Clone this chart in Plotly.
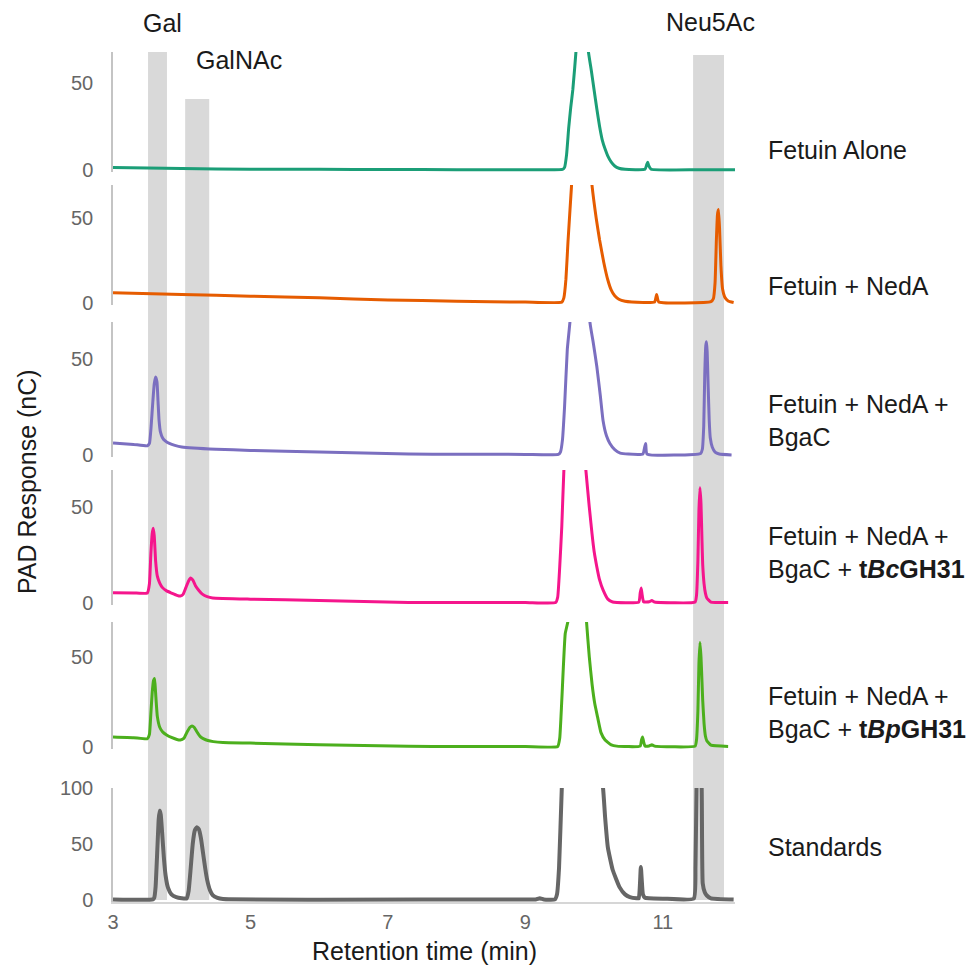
import plotly.graph_objects as go

# ---------------- data ----------------
labels = ["Fetuin Alone",
          "Fetuin + NedA",
          "Fetuin + NedA +<br>BgaC",
          "Fetuin + NedA +<br>BgaC + <b>t<i>Bc</i>GH31</b>",
          "Fetuin + NedA +<br>BgaC + <b>t<i>Bp</i>GH31</b>",
          "Standards"]

x_fetuin = [3.0, 3.5, 4.0, 5.0, 6.0, 7.0, 8.0, 9.0, 9.54, 9.57, 9.60, 9.63, 9.66, 9.69, 9.74,
            9.82, 9.91, 9.96, 10.0, 10.04, 10.08, 10.12, 10.16, 10.2, 10.25, 10.3, 10.36, 10.45,
            10.74, 10.765, 10.78, 10.795, 10.83, 11.5, 12.05]
y_fetuin = [1.5, 1.1, 0.8, 0.5, 0.4, 0.3, 0.2, 0.2, 0.3, 1.5, 9, 24, 36, 46, 70,
            130, 70, 57, 46, 35, 25, 17, 12, 8, 4.5, 2.3, 1.0, 0.4,
            0.4, 3.0, 4.5, 2.5, 0.4, 0.2, 0.2]

x_neda = [3.0, 4.0, 5.0, 6.0, 7.0, 8.0, 9.0, 9.53, 9.56, 9.59, 9.62, 9.67, 9.8, 9.97, 10.03,
          10.08, 10.14, 10.2, 10.25, 10.3, 10.36, 10.45, 10.55, 10.88, 10.91, 10.94, 11.70,
          11.735, 11.76, 11.78, 11.795, 11.81, 11.825, 11.845, 11.87, 11.9, 11.95, 12.03]
y_neda = [6.0, 5.0, 4.0, 3.0, 1.8, 1.0, 0.5, 0.5, 3, 14, 36, 68, 150, 69, 50,
          37, 24, 13.5, 7.5, 4.2, 2.2, 1.0, 0.6, 0.6, 5, 0.6, 0.8,
          2.5, 12, 38, 52, 55, 44, 22, 8, 3.5, 1.2, 0.3]

x_bgac = [3.0, 3.3, 3.50, 3.53, 3.555, 3.58, 3.60, 3.62, 3.64, 3.655, 3.67, 3.69, 3.72,
          3.76, 3.82, 3.9, 4.0, 4.5, 5.0, 6.0, 7.3, 8.0, 9.0, 9.48, 9.51, 9.54, 9.57, 9.61,
          9.65, 9.78, 9.94, 9.99, 10.04, 10.09, 10.13, 10.18, 10.23, 10.3, 10.38, 10.5,
          10.71, 10.735, 10.75, 10.77, 11.55, 11.575, 11.595, 11.61, 11.625, 11.635, 11.645,
          11.66, 11.675, 11.69, 11.72, 11.76, 11.82, 12.0]
y_bgac = [6.3, 5.5, 4.8, 6, 15, 28, 37, 40.6, 38, 28, 18, 12, 9,
          7.3, 6, 5, 4.2, 3.0, 2.4, 1.5, 0.5, 0.4, 0.3, 0.3, 1.5, 8, 25, 55,
          70, 150, 69, 58, 46, 31, 18, 10, 6, 2.8, 1.0, 0.5,
          0.5, 4, 6, 0.5, 0.8, 3, 15, 42, 57, 59, 54,
          35, 18, 9, 4, 1.5, 0.5, 0.0]

x_bc = [3.0, 3.3, 3.50, 3.53, 3.55, 3.57, 3.585, 3.60, 3.62, 3.645, 3.68, 3.72, 3.78, 3.85,
        3.93, 3.98, 4.02, 4.06, 4.10, 4.13, 4.16, 4.20, 4.25, 4.30, 4.37, 4.45,
        5.0, 6.0, 7.3, 8.0, 9.0,
        9.44, 9.47, 9.50, 9.53, 9.56, 9.7,
        9.88, 9.93, 9.97, 10.0, 10.04, 10.08, 10.13, 10.2, 10.27,
        10.65, 10.67, 10.685, 10.70, 10.72, 10.8, 10.84, 10.88,
        11.47, 11.49, 11.51, 11.525, 11.54, 11.555, 11.57, 11.58, 11.60, 11.62, 11.64,
        11.7, 11.95]
y_bc = [5.3, 5.2, 5.2, 10, 25, 36, 39, 35, 22, 14, 10.4, 8, 6.3, 5.2,
        4.0, 3.6, 4.5, 8, 11.5, 13, 12, 9, 6.5, 4.6, 3.3, 2.6,
        2.0, 1.3, 0.3, 0.3, 0.3,
        0.2, 3, 19, 40, 69, 150,
        69.3, 50, 36, 27, 18.8, 12, 6.8, 2, 0.5,
        0.5, 5, 7.8, 4, 0.6, 0.6, 1.3, 0.5,
        0.5, 4, 22, 48, 60, 52, 32, 20, 10, 5, 2.6,
        0.5, 0.2]

x_bp = [3.0, 3.3, 3.50, 3.53, 3.55, 3.57, 3.59, 3.605, 3.62, 3.645, 3.68, 3.72, 3.78, 3.85,
        3.93, 3.98, 4.03, 4.08, 4.12, 4.15, 4.18, 4.22, 4.27, 4.32, 4.38, 4.46, 4.6,
        5.0, 6.0, 7.3, 8.0, 9.0,
        9.47, 9.50, 9.53, 9.58, 9.62, 9.75, 9.89, 9.93, 9.97, 10.01, 10.05, 10.10, 10.16,
        10.25, 10.33,
        10.67, 10.69, 10.705, 10.72, 10.74, 10.8, 10.84, 10.88,
        11.47, 11.49, 11.51, 11.525, 11.54, 11.555, 11.57, 11.58, 11.60, 11.62, 11.64,
        11.7, 11.95]
y_bp = [5.6, 5.2, 4.6, 7, 18, 30, 37, 38, 30, 17, 11, 8.5, 6.7, 5.3,
        4.2, 3.9, 4.8, 8.5, 11, 11.7, 11, 8.5, 5.8, 4.5, 3.6, 3.0, 2.5,
        2.2, 1.3, 0.4, 0.3, 0.3,
        0.3, 5, 26, 63, 70, 150, 69.4, 50, 35, 24, 16.7, 8, 3.9,
        1.2, 0.5,
        0.5, 4, 5.6, 3, 0.6, 0.6, 1.2, 0.5,
        0.5, 4, 20, 46, 58, 50, 36, 26, 13, 6, 3.5,
        1.0, 0.3]

x_std = [3.0, 3.58, 3.60, 3.62, 3.645, 3.665, 3.68, 3.695, 3.715, 3.74, 3.765, 3.80, 3.85,
         3.92, 4.0, 4.07, 4.10, 4.13, 4.16, 4.19, 4.22, 4.25, 4.28, 4.31, 4.34, 4.37, 4.41,
         4.45, 4.52, 4.6, 6.0, 9.0, 9.15, 9.21, 9.27, 9.43, 9.46,
         9.49, 9.53, 9.6, 9.9, 10.13, 10.16, 10.2, 10.27, 10.37, 10.45,
         10.52, 10.62, 10.65, 10.68, 10.71, 10.74, 10.8, 11.0, 11.45, 11.475,
         11.49, 11.52, 11.565, 11.58, 11.61, 11.64, 11.7, 12.03]
y_std = [0.5, 0.5, 2, 12, 45, 72, 80, 76, 60, 38, 22, 11, 5,
         2.5, 1.5, 1.3, 8, 28, 50, 62, 65, 63, 55, 42, 29, 18, 9,
         4.4, 1.8, 0.8, 0.3, 0.5, 0.5, 1.5, 0.5, 0.5, 5,
         29, 100, 200, 200, 100, 74, 47, 27, 11.5, 5,
         2.6, 1.5, 1.5, 29.5, 5, 2, 1.5, 1.2, 1.2, 30,
         100, 160, 100, 15, 7, 4, 1.5, 0.5]

series_x = [x_fetuin, x_neda, x_bgac, x_bc, x_bp, x_std]
series_y = [y_fetuin, y_neda, y_bgac, y_bc, y_bp, y_std]
colors = ["#1b9e77", "#e65c00", "#7b6fc0", "#f5158c", "#4caf1d", "#666666"]
widths = [3, 3, 3, 3, 3, 4]

panel_ticks = [[0, 50]] * 5 + [[0, 50, 100]]
panel_ranges = [[-1.15, 67.8], [-1.2, 69.4], [-1.05, 69.3], [-1.05, 69.3], [-1.1, 69.4], [-1.8, 100]]

x_ticks = [3, 5, 7, 9, 11]
x_range = [3, 12.05]

band_names = ["Gal", "GalNAc", "Neu5Ac"]
band_x0 = [3.51, 4.05, 11.44]
band_x1 = [3.785, 4.40, 11.89]

# ---------------- layout geometry (pixels) ----------------
W, H = 970, 968
def fx(p):
    return p / W
def fy(p):
    return 1 - p / H

panel_px = [(52, 172), (185, 305), (322, 457), (470, 605), (622, 749), (788, 902)]
label_py = [150, 286, 420, 552, 712, 847]
band_top_py = [52, 99, 55]
band_label_pos = [(162, 23), (239, 60), (710, 22)]

FONT = "Liberation Sans, Arial, Helvetica, sans-serif"

fig = go.Figure()
for i in range(6):
    yname = "y" if i == 0 else f"y{i+1}"
    fig.add_trace(go.Scatter(x=series_x[i], y=series_y[i], mode="lines",
                             line=dict(color=colors[i], width=widths[i], shape="spline", smoothing=0.4),
                             xaxis="x", yaxis=yname, showlegend=False,
                             hoverinfo="skip"))

layout = dict(
    template="none",
    width=W, height=H, margin=dict(l=0, r=0, t=0, b=0, pad=0, autoexpand=False),
    paper_bgcolor="white", plot_bgcolor="rgba(0,0,0,0)",
    font=dict(family=FONT, size=25, color="#1a1a1a"),
    xaxis=dict(domain=[fx(113), fx(735)], range=x_range, anchor="y6", automargin=False,
               tickvals=x_ticks, ticks="", showgrid=False, zeroline=False,
               showline=True, linecolor="#d6d6d6", linewidth=1.5,
               tickfont=dict(size=20, color="#666666"), ticklabelstandoff=1),
)
for i in range(6):
    key = "yaxis" if i == 0 else f"yaxis{i+1}"
    top, bot = panel_px[i]
    layout[key] = dict(domain=[fy(bot), fy(top)], range=panel_ranges[i], anchor="x",
                       automargin=False,
                       tickvals=panel_ticks[i], ticks="", showgrid=False, zeroline=False,
                       showline=True, linecolor="#c4c4c4", linewidth=1.5,
                       tickfont=dict(size=20, color="#666666"), ticklabelstandoff=14)
fig.update_layout(**layout)

shapes = []
for j in range(3):
    shapes.append(dict(type="rect", xref="x", yref="paper",
                       x0=band_x0[j], x1=band_x1[j], y0=fy(900), y1=fy(band_top_py[j]),
                       fillcolor="#d9d9d9", line=dict(width=0), layer="below"))
fig.update_layout(shapes=shapes)

ann = []
for j in range(3):
    px_, py_ = band_label_pos[j]
    ann.append(dict(text=band_names[j], x=fx(px_), y=fy(py_), xref="paper", yref="paper",
                    xanchor="center", yanchor="middle", showarrow=False,
                    font=dict(size=25, color="#1a1a1a")))
for i in range(6):
    ann.append(dict(text=labels[i], x=fx(766), y=fy(label_py[i]), xref="paper", yref="paper",
                    xanchor="left", yanchor="middle", align="left", showarrow=False,
                    font=dict(size=25, color="#1a1a1a")))
ann.append(dict(text="PAD Response (nC)", x=fx(27), y=fy(482), xref="paper", yref="paper",
                xanchor="center", yanchor="middle", textangle=-90, showarrow=False,
                font=dict(size=25, color="#1a1a1a")))
ann.append(dict(text="Retention time (min)", x=fx(424), y=fy(951), xref="paper", yref="paper",
                xanchor="center", yanchor="middle", showarrow=False,
                font=dict(size=25, color="#1a1a1a")))
fig.update_layout(annotations=ann)

fig.write_html("out.html", config={"displayModeBar": False},
               post_script="document.body.style.margin='0px';document.body.style.overflow='hidden';")
